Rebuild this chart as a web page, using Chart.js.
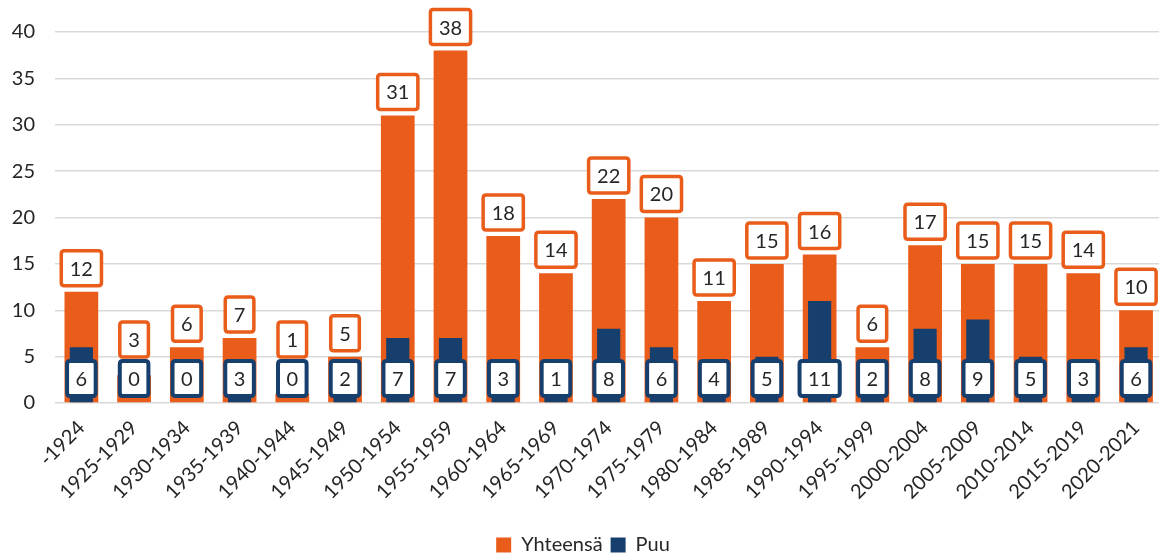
<!DOCTYPE html>
<html>
<head>
<meta charset="utf-8">
<script src="https://cdn.jsdelivr.net/npm/chart.js@4"></script>
<style>
  html, body { margin: 0; padding: 0; background: #fff; overflow: hidden; }
  #wrap { width: 1159px; height: 557px; overflow: hidden; }
</style>
</head>
<body>
<div id="wrap">
  <canvas id="myChart" width="1166" height="565"></canvas>
</div>
<script>
'use strict';

const periods = ['-1924', '1925-1929', '1930-1934', '1935-1939', '1940-1944', '1945-1949',
  '1950-1954', '1955-1959', '1960-1964', '1965-1969', '1970-1974', '1975-1979', '1980-1984',
  '1985-1989', '1990-1994', '1995-1999', '2000-2004', '2005-2009', '2010-2014', '2015-2019', '2020-2021'];
const totalCounts = [12, 3, 6, 7, 1, 5, 31, 38, 18, 14, 22, 20, 11, 15, 16, 6, 17, 15, 15, 14, 10];
const woodCounts = [6, 0, 0, 3, 0, 2, 7, 7, 3, 1, 8, 6, 4, 5, 11, 2, 8, 9, 5, 3, 6];
const yTicks = [0, 5, 10, 15, 20, 25, 30, 35, 40];

const orange = '#ea5c1a';
const blue = '#173f6d';
const fontFamily = 'Lato, "Open Sans", sans-serif';
const boxH = 35;

function roundBox(ctx, x, y, w, h, r) {
  ctx.beginPath();
  ctx.moveTo(x + r, y);
  ctx.lineTo(x + w - r, y);
  ctx.quadraticCurveTo(x + w, y, x + w, y + r);
  ctx.lineTo(x + w, y + h - r);
  ctx.quadraticCurveTo(x + w, y + h, x + w - r, y + h);
  ctx.lineTo(x + r, y + h);
  ctx.quadraticCurveTo(x, y + h, x, y + h - r);
  ctx.lineTo(x, y + r);
  ctx.quadraticCurveTo(x, y, x + r, y);
  ctx.closePath();
}

function drawLabel(ctx, text, cx, top, color, lw) {
  ctx.font = '20px ' + fontFamily;
  let w = ctx.measureText(text).width + 17;
  let x = cx - w / 2;
  roundBox(ctx, x, top, w, boxH, 3);
  ctx.fillStyle = '#fff';
  ctx.fill();
  ctx.lineWidth = lw;
  ctx.strokeStyle = color;
  ctx.stroke();
  ctx.fillStyle = '#262626';
  ctx.textAlign = 'center';
  ctx.textBaseline = 'middle';
  ctx.fillText(text, cx, top + boxH / 2 + 1);
}

// boxes like Excel data labels
const labelPlugin = {
  id: 'boxLabels',
  afterDatasetsDraw(chart) {
    let ctx = chart.ctx;
    let yScale = chart.scales.y;
    let base = yScale.getPixelForValue(0);
    let blueTop = base - 7 - boxH;
    ctx.save();
    chart.getDatasetMeta(0).data.forEach((bar, i) => {
      // keep the total label clear of the wood label below it
      let bottom = Math.min(bar.y - 6, blueTop - 4);
      drawLabel(ctx, String(totalCounts[i]), bar.x, bottom - boxH, orange, 3.5);
    });
    chart.getDatasetMeta(1).data.forEach((bar, i) => {
      drawLabel(ctx, String(woodCounts[i]), bar.x, blueTop, blue, 4);
    });
    ctx.restore();
  }
};

let canvasElem = document.getElementById('myChart').getContext('2d');

new Chart(canvasElem, {
  type: 'bar',
  data: {
    labels: periods,
    datasets: [{
      label: 'Yhteensä',
      data: totalCounts,
      backgroundColor: orange,
      grouped: false,
      order: 2,
      categoryPercentage: 1,
      barPercentage: 0.64
    },
    {
      label: 'Puu',
      data: woodCounts,
      backgroundColor: blue,
      grouped: false,
      order: 1,
      categoryPercentage: 1,
      barPercentage: 0.44
    }]
  },
  options: {
    responsive: false,
    animation: false,
    layout: { padding: { top: 25, left: 0, right: 0, bottom: 0 } },
    plugins: {
      tooltip: { enabled: false },
      legend: {
        position: 'bottom',
        labels: {
          font: { family: fontFamily, size: 20 },
          color: '#262626',
          boxWidth: 15,
          boxHeight: 15,
          padding: 8,
          sort: (a, b) => a.datasetIndex - b.datasetIndex
        }
      }
    },
    scales: {
      x: {
        grid: { display: false, drawTicks: false },
        border: { display: false },
        ticks: {
          font: { family: fontFamily, size: 20 },
          color: '#262626',
          minRotation: 45,
          maxRotation: 45,
          padding: 13
        },
        afterFit(scale) { scale.height = 124; }
      },
      y: {
        min: 0,
        max: 40,
        grid: { color: '#d9d9d9', lineWidth: 1.5, drawTicks: false },
        border: { display: false },
        afterBuildTicks(scale) { scale.ticks = yTicks.map(v => ({ value: v })); },
        ticks: {
          font: { family: fontFamily, size: 20 },
          color: '#262626',
          padding: 20
        },
        afterFit(scale) { scale.width = 55; }
      }
    }
  },
  plugins: [labelPlugin]
});
</script>
</body>
</html>
